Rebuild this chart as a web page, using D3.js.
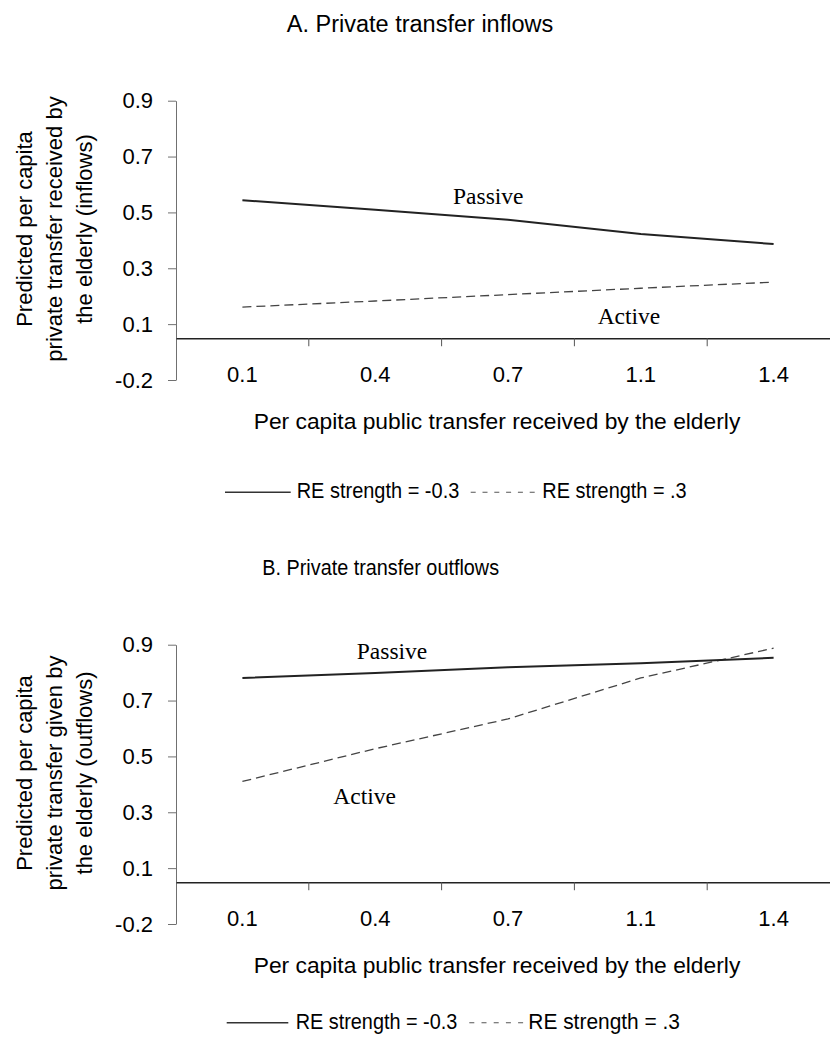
<!DOCTYPE html>
<html>
<head>
<meta charset="utf-8">
<script src="https://cdn.jsdelivr.net/npm/d3@7"></script>
<style>
  body { margin: 0; background: #fff; }
  svg { display: block; }
</style>
</head>
<body>
<div id="chart"></div>
<script>
//---------------------------DATA--------------------------------//
const categories = ["0.1", "0.4", "0.7", "1.1", "1.4"];
// excel-style value axis: real tick values, rounded labels
const yTickValues = [-0.157, 0.053, 0.263, 0.473, 0.683, 0.893];
const yTickLabels = ["-0.2", "0.1", "0.3", "0.5", "0.7", "0.9"];

const inflowPassive  = [0.519, 0.483, 0.445, 0.392, 0.354];
const inflowActive   = [0.117, 0.140, 0.164, 0.188, 0.211];
const outflowPassive = [0.768, 0.787, 0.808, 0.823, 0.844];
const outflowActive  = [0.379, 0.502, 0.614, 0.768, 0.880];

const legendLabels = ["RE strength = -0.3", "RE strength = .3"];
const xTitle = "Per capita public transfer received by the elderly";

//---------------------------LAYOUT------------------------------//
const width = 830;
const height = 1046;
const sans = "'Liberation Sans', Arial, sans-serif";
const serif = "'Liberation Serif', 'Times New Roman', serif";

const panels = [
  {
    off: 0,
    title: "A. Private transfer inflows", titleX: 420, titleY: 32.3, titleSize: 23.5,
    yTitle: ["Predicted per capita", "private transfer received by", "the elderly (inflows)"],
    passive: inflowPassive, active: inflowActive,
    notes: [{ text: "Passive", at: 1.586, v: 0.505 }, { text: "Active", at: 2.675, v: 0.054 }],
    legend: { y: 492.3, solid: [225, 290.7], t1: [296.7, 162.6], dash: [470.7, 540], dashArr: "5,6.8", t2: [542.3, 144.4] }
  },
  {
    off: 544,
    title: "B. Private transfer outflows", titleX: 380.7, titleY: 575, titleSize: 22, titleLen: 236.7,
    yTitle: ["Predicted per capita", "private transfer given by", "the elderly (outflows)"],
    passive: outflowPassive, active: outflowActive,
    notes: [{ text: "Passive", at: 0.861, v: 0.839 }, { text: "Active", at: 0.684, v: 0.294 }],
    legend: { y: 1022.7, solid: [226.7, 288.3], t1: [295.7, 161.6], dash: [469.3, 523.3], dashArr: "5,7.2", t2: [528.3, 151.7] }
  }
];

const svg = d3.select("#chart").append("svg")
    .attr("width", width)
    .attr("height", height);

//---------------------------SCALES------------------------------//
const xScale = d3.scaleBand().domain(categories).range([176, 840]).padding(0);
const bw = xScale.bandwidth();
// index -> category centre, for annotations placed between categories
const xIdx = d3.scaleLinear()
    .domain([0, categories.length - 1])
    .range([xScale(categories[0]) + bw / 2, xScale(categories[categories.length - 1]) + bw / 2]);

//---------------------------DRAWING-----------------------------//
panels.forEach(function(p) {
  const g = svg.append("g");
  const yScale = d3.scaleLinear()
      .domain([yTickValues[0], yTickValues[yTickValues.length - 1]])
      .range([380 + p.off, 100.7 + p.off]);

  // title
  const t = g.append("text")
      .attr("x", p.titleX).attr("y", p.titleY)
      .attr("text-anchor", "middle")
      .style("font-family", sans).style("font-size", p.titleSize + "px")
      .text(p.title);
  if (p.titleLen) t.attr("textLength", p.titleLen).attr("lengthAdjust", "spacingAndGlyphs");

  // y axis
  const yAxis = g.append("g")
      .attr("transform", "translate(176,0)")
      .call(d3.axisLeft(yScale)
        .tickValues(yTickValues)
        .tickFormat(function(d, i) { return yTickLabels[i]; })
        .tickSize(8).tickSizeOuter(0).tickPadding(15));
  yAxis.select(".domain").attr("stroke", "#707070");
  yAxis.selectAll(".tick line").attr("stroke", "#707070");
  yAxis.selectAll("text").style("font-family", sans).style("font-size", "22px").attr("fill", "#000");

  // x axis at zero
  const y0 = yScale(0);
  const xAxis = g.append("g")
      .attr("transform", "translate(0," + y0 + ")")
      .call(d3.axisBottom(xScale).tickSize(0).tickSizeOuter(0).tickPadding(27.8));
  xAxis.select(".domain").attr("stroke", "#222").attr("stroke-width", 1.4);
  xAxis.selectAll("text").style("font-family", sans).style("font-size", "22px").attr("fill", "#000");
  g.selectAll(null)
      .data(categories.slice(1))
      .join("line")
      .attr("x1", function(d) { return xScale(d); })
      .attr("x2", function(d) { return xScale(d); })
      .attr("y1", y0).attr("y2", y0 + 8)
      .attr("stroke", "#555").attr("stroke-width", 1);

  // axis titles
  g.append("text")
      .attr("x", 497).attr("y", 428.5 + p.off)
      .attr("text-anchor", "middle")
      .style("font-family", sans).style("font-size", "22.8px")
      .text(xTitle);
  p.yTitle.forEach(function(s, i) {
    g.append("text")
        .attr("transform", "translate(" + (31.7 + i * 30) + "," + (229 + p.off) + ") rotate(-90)")
        .attr("text-anchor", "middle")
        .style("font-family", sans).style("font-size", "22px")
        .text(s);
  });

  // lines
  const line = d3.line()
      .x(function(d, i) { return xScale(categories[i]) + bw / 2; })
      .y(function(d) { return yScale(d); });
  g.append("path")
      .datum(p.active)
      .attr("fill", "none").attr("stroke", "#444").attr("stroke-width", 1.3)
      .attr("stroke-dasharray", "9,5")
      .attr("d", line);
  g.append("path")
      .datum(p.passive)
      .attr("fill", "none").attr("stroke", "#222").attr("stroke-width", 2)
      .attr("d", line);

  // annotations
  g.selectAll(null)
      .data(p.notes)
      .join("text")
      .attr("x", function(d) { return xIdx(d.at); })
      .attr("y", function(d) { return yScale(d.v); })
      .style("font-family", serif).style("font-size", "23.5px")
      .text(function(d) { return d.text; });

  // legend
  const L = p.legend;
  g.append("line")
      .attr("x1", L.solid[0]).attr("x2", L.solid[1]).attr("y1", L.y).attr("y2", L.y)
      .attr("stroke", "#333").attr("stroke-width", 1.6);
  g.append("text")
      .attr("x", L.t1[0]).attr("y", L.y + 6)
      .attr("textLength", L.t1[1]).attr("lengthAdjust", "spacingAndGlyphs")
      .style("font-family", sans).style("font-size", "22px")
      .text(legendLabels[0]);
  g.append("line")
      .attr("x1", L.dash[0]).attr("x2", L.dash[1]).attr("y1", L.y).attr("y2", L.y)
      .attr("stroke", "#555").attr("stroke-width", 1.1)
      .attr("stroke-dasharray", L.dashArr);
  g.append("text")
      .attr("x", L.t2[0]).attr("y", L.y + 6)
      .attr("textLength", L.t2[1]).attr("lengthAdjust", "spacingAndGlyphs")
      .style("font-family", sans).style("font-size", "22px")
      .text(legendLabels[1]);
});
</script>
</body>
</html>
